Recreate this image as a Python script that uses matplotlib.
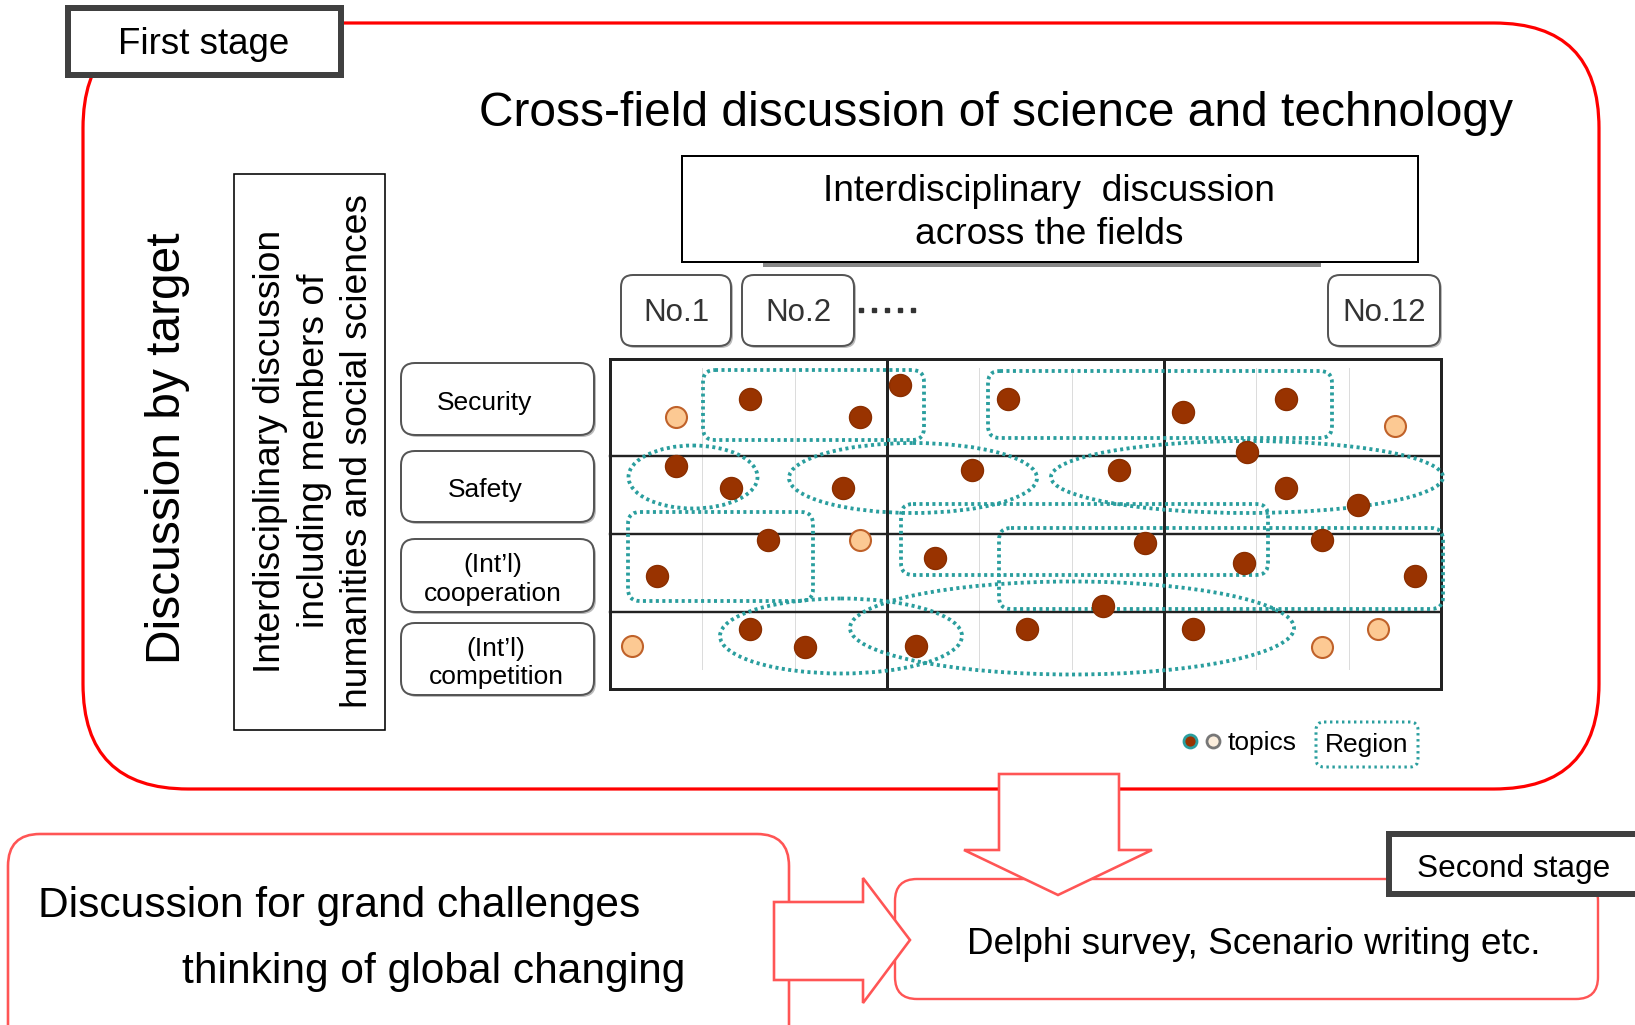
import matplotlib
matplotlib.use('Agg')
import matplotlib.pyplot as plt
from matplotlib.patches import FancyBboxPatch, Rectangle, Ellipse, Polygon

plt.rcParams['font.family'] = ['Liberation Sans', 'DejaVu Sans']

W, H = 1635, 1025
PT = 0.72   # pixel -> point at dpi 100

# labels
row_labels = ['Security', 'Safety', '(Int\u2019l)\ncooperation', '(Int\u2019l)\ncompetition']
field_labels = ['No.1', 'No.2', 'No.12']

# topics in picture pixels; 1 = dark topic, 0 = light topic
topic_x = [676, 750, 860, 900, 1008, 1183, 1286, 1395,
           676, 731, 843, 972, 1119, 1247, 1286, 1358,
           768, 860, 657, 935, 1145, 1244, 1322, 1415, 1103,
           632, 750, 805, 916, 1027, 1193, 1322, 1378]
topic_y = [417, 399, 417, 385, 399, 412, 399, 426,
           466, 488, 488, 470, 470, 452, 488, 505,
           540, 540, 576, 558, 543, 563, 540, 576, 606,
           646, 629, 647, 646, 629, 629, 647, 629]
topic_dark = [0, 1, 1, 1, 1, 1, 1, 0,
              1, 1, 1, 1, 1, 1, 1, 1,
              1, 0, 1, 1, 1, 1, 1, 1, 1,
              0, 1, 1, 1, 1, 1, 0, 0]

# regions: rounded boxes (x0, y0, x1, y1) and ellipses (cx, cy, w, h)
box_regions = [(703, 370, 924, 440), (988, 371, 1332, 438),
               (628, 512, 813, 601), (901, 504, 1268, 575),
               (999, 528, 1443, 609)]
ell_regions = [(693, 477, 129, 63), (913, 478, 248, 70),
               (1247, 477, 392, 72), (841, 636, 242, 75),
               (1072, 628, 444, 93)]

# grid
grid_x0, grid_x1 = 610, 1441
row_edges = [359, 456, 534, 612, 689]
n_sub = 9

RED = '#ff0000'
PINK = '#ff5555'
TEAL = '#2a9e9e'
DARK = '#993300'
LIGHT = '#fcc993'

fig = plt.figure(figsize=(W / 100, H / 100), dpi=100)
ax = fig.add_axes([0, 0, 1, 1])
ax.set_xlim(0, W)
ax.set_ylim(H, 0)
ax.axis('off')


def rbox(x0, y0, x1, y1, r, **kw):
    p = FancyBboxPatch((x0, y0), x1 - x0, y1 - y0,
                       boxstyle='round,pad=0,rounding_size=%d' % r, **kw)
    ax.add_patch(p)
    return p


# first stage frame
rbox(83, 23, 1599, 789, 105, fc='none', ec=RED, lw=3.2 * PT, zorder=1)
ax.add_patch(Rectangle((68, 8), 273, 67, fc='white', ec='#404040', lw=6 * PT, zorder=3))
ax.text(204, 45, 'First stage', fontsize=26.5, ha='center', va='center', zorder=4)

ax.text(996, 114, 'Cross-field discussion of science and technology',
        fontsize=34.5, ha='center', va='center')
ax.text(167, 448, 'Discussion by target', fontsize=34.5, rotation=90,
        ha='center', va='center')

ax.add_patch(Rectangle((234, 174), 151, 556, fc='white', ec='black', lw=1.6 * PT))
ax.text(314, 451, 'Interdisciplinary discussion\nincluding members of\nhumanities and social sciences',
        fontsize=26.8, rotation=90, ha='center', va='center', multialignment='center',
        linespacing=1.33)

# interdisciplinary box
ax.plot([765, 1319], [265, 265], color='#888888', lw=4 * PT, zorder=1)
ax.add_patch(Rectangle((682, 156), 736, 106, fc='white', ec='black', lw=2 * PT, zorder=2))
ax.text(1049, 213, 'Interdisciplinary  discussion\nacross the fields', fontsize=26.7,
        ha='center', va='center', linespacing=1.32, zorder=3)

# field boxes
field_x = [(621, 731), (742, 854), (1328, 1440)]
for (x0, x1), lab in zip(field_x, field_labels):
    rbox(x0 + 2, 277, x1 + 2, 348, 12, fc='#bbbbbb', ec='none', zorder=1)
    rbox(x0, 275, x1, 346, 12, fc='white', ec='#555555', lw=2 * PT, zorder=2)
    ax.text((x0 + x1) / 2, 313, lab, fontsize=22.5, color='#333333',
            ha='center', va='center', zorder=3)
ax.plot([861 + 13 * k for k in range(5)], [310] * 5, ls='none', marker='s',
        ms=3, color='#333333')

# row label boxes
row_box_y = [(363, 435), (451, 522), (539, 612), (623, 695)]
row_text_x = [485, 485, 493, 496]
for (y0, y1), lab, tx in zip(row_box_y, row_labels, row_text_x):
    rbox(403, y0 + 2, 596, y1 + 2, 14, fc='#bbbbbb', ec='none', zorder=1)
    rbox(401, y0, 594, y1, 14, fc='white', ec='#555555', lw=2 * PT, zorder=2)
    ax.text(tx, (y0 + y1) / 2 + 4, lab, fontsize=19, ha='center', va='center',
            linespacing=1.25, zorder=3)

# grid
sub_w = (grid_x1 - grid_x0) / n_sub
for k in range(1, n_sub):
    x = grid_x0 + k * sub_w
    if k % 3:
        ax.plot([x, x], [368, 670], color='#bbbbbb', lw=1 * PT, ls=(0, (1, 1)), zorder=1)
    else:
        ax.plot([x, x], [row_edges[0], row_edges[-1]], color='#222222', lw=3 * PT, zorder=3)
for y in row_edges[1:-1]:
    ax.plot([grid_x0, grid_x1], [y, y], color='#222222', lw=2.4 * PT, zorder=3)
ax.add_patch(Rectangle((grid_x0, row_edges[0]), grid_x1 - grid_x0,
                       row_edges[-1] - row_edges[0], fc='none', ec='#222222',
                       lw=3 * PT, zorder=3))

# regions
for x0, y0, x1, y1 in box_regions:
    rbox(x0, y0, x1, y1, 12, fc='none', ec=TEAL, lw=3.8 * PT, ls=(0, (0.8, 0.9)), zorder=4)
for cx, cy, w, h in ell_regions:
    ax.add_patch(Ellipse((cx, cy), w, h, fc='none', ec=TEAL, lw=3.8 * PT,
                         ls=(0, (0.8, 0.9)), zorder=4))

# topics
dk = [i for i, d in enumerate(topic_dark) if d]
lt = [i for i, d in enumerate(topic_dark) if not d]
ax.scatter([topic_x[i] for i in dk], [topic_y[i] for i in dk], s=(22 * PT) ** 2,
           c=DARK, edgecolors='#8a2e00', lw=1, zorder=5)
ax.scatter([topic_x[i] for i in lt], [topic_y[i] for i in lt], s=(21 * PT) ** 2,
           c=LIGHT, edgecolors='#c0622a', lw=1.5, zorder=5)

# legend
ax.scatter([1190], [741], s=(13 * PT) ** 2, c=DARK, edgecolors=TEAL, lw=2, zorder=5)
ax.scatter([1213], [741], s=(13 * PT) ** 2, c='#fbeedd', edgecolors='#777777', lw=2, zorder=5)
ax.text(1228, 743, 'topics', fontsize=19, ha='left', va='center')
rbox(1316, 722, 1418, 767, 8, fc='none', ec=TEAL, lw=3 * PT, ls=(0, (0.8, 1.2)))
ax.text(1367, 745, 'Region', fontsize=19, ha='center', va='center')

# bottom: grand challenges box
rbox(8, 834, 789, 1060, 32, fc='white', ec=PINK, lw=2.6 * PT, zorder=1)
ax.text(38, 906, 'Discussion for grand challenges', fontsize=30.6, ha='left', va='center')
ax.text(182, 972, 'thinking of global changing', fontsize=30.6, ha='left', va='center')

# second stage box
rbox(895, 879, 1598, 999, 22, fc='white', ec=PINK, lw=2.4 * PT, zorder=1)
ax.text(1254, 945, 'Delphi survey, Scenario writing etc.', fontsize=26.6,
        ha='center', va='center', zorder=4)
ax.add_patch(Rectangle((1389, 834), 260, 60, fc='white', ec='#404040', lw=6 * PT,
                       zorder=3, clip_on=False))
ax.text(1514, 869, 'Second stage', fontsize=22.7, ha='center', va='center', zorder=4)

# arrows
right_arrow = [(774, 902), (863, 902), (863, 878), (910, 940), (863, 1003),
               (863, 980), (774, 980)]
down_arrow = [(999, 774), (1119, 774), (1119, 850), (1152, 850), (1058, 895),
              (964, 850), (999, 850)]
ax.add_patch(Polygon(right_arrow, closed=True, fc='white', ec=PINK, lw=2.6 * PT, zorder=2))
ax.add_patch(Polygon(down_arrow, closed=True, fc='white', ec=PINK, lw=2.6 * PT, zorder=2))

fig.savefig('out.png', dpi=100, facecolor='white')
